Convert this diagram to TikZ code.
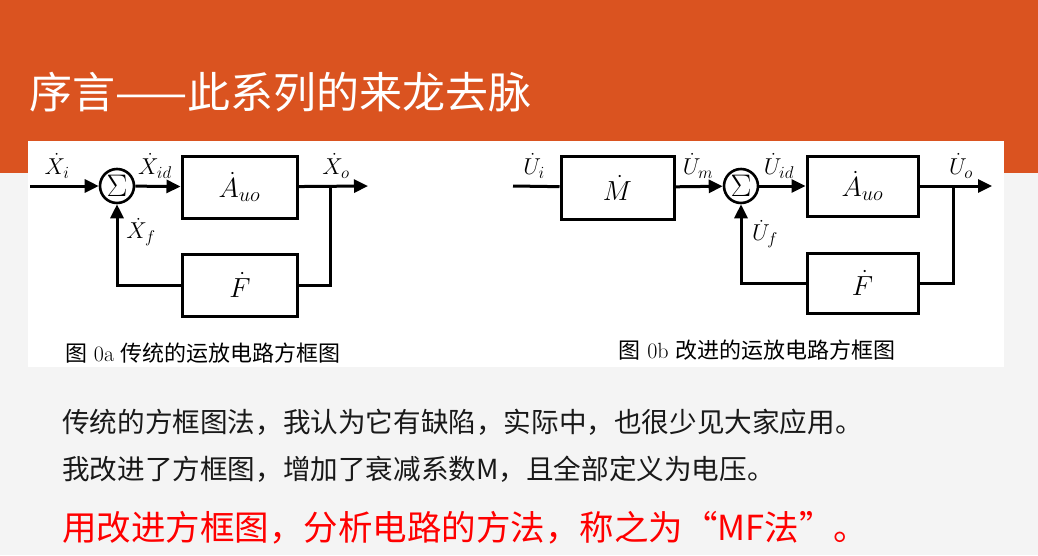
\RequirePackage{fix-cm}
\documentclass[tikz,border=0pt]{standalone}
\usepackage{graphicx}
\usepackage{fontspec}
\newfontfamily\cjk{Noto Sans CJK SC}
\usetikzlibrary{arrows.meta}
\DeclareMathSizes{23}{23}{17}{13}
\DeclareMathSizes{26}{26}{19}{14}
\definecolor{slideorange}{RGB}{218,83,32}
\definecolor{slidegray}{RGB}{244,244,244}
\definecolor{slidered}{RGB}{255,0,0}
\newcommand{\blklbl}[1]{\scalebox{1.2}{$#1$}}
\tikzset{
    blk/.style={draw, line width=3pt, minimum width=115pt, minimum height=62pt, inner sep=0pt, font=\fontsize{23}{26}\selectfont},
    sumnode/.style={draw, circle, line width=2.6pt, minimum size=34pt, inner sep=0pt, font=\fontsize{26}{28}\selectfont},
    sig/.style={line width=3pt, -{Triangle[length=14pt,width=13pt]}},
    wire/.style={line width=3pt},
    lbl/.style={inner sep=1pt, font=\fontsize{23}{26}\selectfont},
    captxt/.style={font=\fontsize{22}{26}\selectfont},
    bodytxt/.style={anchor=west, inner sep=0pt, text=black!90, font=\cjk\fontsize{27.6}{32}\selectfont}
}
\begin{document}
\begin{tikzpicture}[x=1pt, y=-1pt]
    \useasboundingbox (0,0) rectangle (1038,555);
    % Slide background
    \fill[slidegray] (0,0) rectangle (1038,555);
    \fill[slideorange] (0,0) rectangle (1038,173);
    \node[anchor=west, inner sep=0pt, text=white, font=\cjk\fontsize{43}{48}\selectfont] (title) at (29,92) {序言——此系列的来龙去脉};
    \fill[white] (28,141) rectangle (1004,367);

    % Figure 0a
    \coordinate (ia) at (30,186);
    \node[sumnode] (sa) at (117,186) {\blklbl{\Sigma}};
    \node[blk] (Aa) at (239.5,187) {\blklbl{\dot{A}_{uo}}};
    \node[blk] (Fa) at (240,285) {\blklbl{\dot{F}}};
    \coordinate (ba) at (330,186);
    \coordinate (oa) at (368,186);
    \draw[sig] (ia) -- (sa);
    \draw[sig] (sa) -- (Aa);
    \draw[sig] (Aa) -- (oa);
    \draw[wire] (ba) |- (Fa);
    \draw[sig] (Fa) -| (sa);
    \node[lbl] (xi) at (57,166) {$\dot{X}_i$};
    \node[lbl] (xid) at (155,166) {$\dot{X}_{id}$};
    \node[lbl] (xo) at (336,166) {$\dot{X}_o$};
    \node[lbl] (xf) at (141,232) {$\dot{X}_f$};
    \node[captxt] (capa) at (203,353) {{\cjk 图} 0a {\cjk 传统的运放电路方框图}};

    % Figure 0b
    \coordinate (ib) at (513,186);
    \node[blk, minimum width=113pt, minimum height=63pt] (Mb) at (617.5,187.5) {\blklbl{\dot{M}}};
    \node[sumnode] (sb) at (741,186) {\blklbl{\Sigma}};
    \node[blk, minimum width=111pt, minimum height=60pt] (Ab) at (862.5,186) {\blklbl{\dot{A}_{uo}}};
    \node[blk, minimum width=111pt, minimum height=60pt] (Fb) at (862.5,283) {\blklbl{\dot{F}}};
    \coordinate (bb) at (953,186);
    \coordinate (ob) at (992,186);
    \draw[wire] (ib) -- (Mb);
    \draw[sig] (Mb) -- (sb);
    \draw[sig] (sb) -- (Ab);
    \draw[sig] (Ab) -- (ob);
    \draw[wire] (bb) |- (Fb);
    \draw[sig] (Fb) -| (sb);
    \node[lbl] (ui) at (534,166) {$\dot{U}_i$};
    \node[lbl] (um) at (698,166) {$\dot{U}_m$};
    \node[lbl] (uid) at (779,166) {$\dot{U}_{id}$};
    \node[lbl] (uo) at (961,166) {$\dot{U}_o$};
    \node[lbl] (uf) at (765,234) {$\dot{U}_f$};
    \node[captxt] (capb) at (757,350) {{\cjk 图} 0b {\cjk 改进的运放电路方框图}};

    % Text below
    \node[bodytxt] (line1) at (62,422) {传统的方框图法，我认为它有缺陷，实际中，也很少见大家应用。};
    \node[bodytxt] (line2) at (62,469) {我改进了方框图，增加了衰减系数M，且全部定义为电压。};
    \node[bodytxt, text=slidered, font=\cjk\fontsize{34.5}{40}\selectfont] (line3) at (62,528) {用改进方框图，分析电路的方法，称之为“MF法”。};
\end{tikzpicture}
\end{document}
